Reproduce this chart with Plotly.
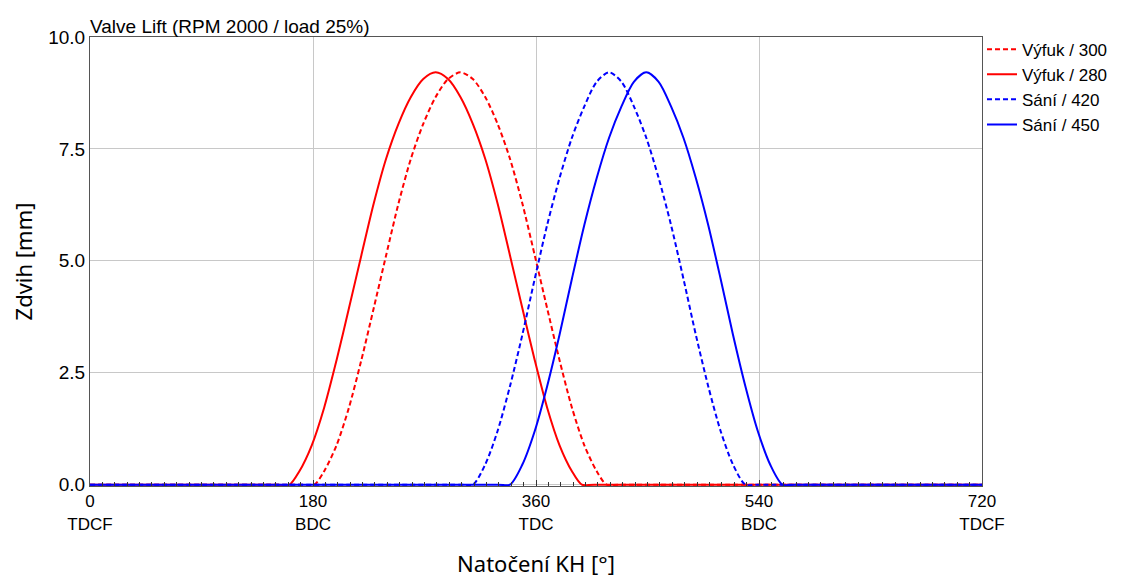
import plotly.graph_objects as go

# valve lift (crank angle [deg], lift [mm])
vyfuk_300_x = [0, 171, 181, 189, 199, 209, 219, 229, 239, 249, 259, 269, 279, 289,
               299, 309, 319, 329, 339, 349, 359, 369, 379, 389, 399, 409, 417, 427, 720]
vyfuk_300_y = [0, 0, 0, 0.3, 0.88, 1.72, 2.78, 3.94, 5.12, 6.28, 7.28, 8.06, 8.66, 9.06,
               9.21, 9.06, 8.66, 8.06, 7.28, 6.28, 5.12, 3.94, 2.78, 1.72, 0.88, 0.3, 0, 0, 0]

vyfuk_280_x = [0, 151, 161, 169, 179, 189, 199, 209, 219, 229, 239, 249, 259, 269,
               279, 289, 299, 309, 319, 329, 339, 349, 359, 369, 379, 389, 397, 407, 720]
vyfuk_280_y = [0, 0, 0, 0.3, 0.88, 1.72, 2.78, 3.94, 5.12, 6.28, 7.28, 8.06, 8.66, 9.06,
               9.21, 9.06, 8.66, 8.06, 7.28, 6.28, 5.12, 3.94, 2.78, 1.72, 0.88, 0.3, 0, 0, 0]

sani_420_x = [0, 299, 309, 319, 329, 339, 349, 359, 369, 379, 389, 399, 409, 419,
              429, 439, 449, 459, 469, 479, 489, 499, 509, 519, 529, 539, 720]
sani_420_y = [0, 0, 0, 0.45, 1.2, 2.2, 3.35, 4.6, 5.8, 6.85, 7.75, 8.45, 9.0, 9.21,
              9.0, 8.45, 7.75, 6.85, 5.8, 4.6, 3.35, 2.2, 1.2, 0.45, 0, 0, 0]

sani_450_x = [0, 329, 339, 349, 359, 369, 379, 389, 399, 409, 419, 429, 439, 449,
              459, 469, 479, 489, 499, 509, 519, 529, 539, 549, 559, 569, 720]
sani_450_y = [0, 0, 0, 0.45, 1.2, 2.2, 3.35, 4.6, 5.8, 6.85, 7.75, 8.45, 9.0, 9.21,
              9.0, 8.45, 7.75, 6.85, 5.8, 4.6, 3.35, 2.2, 1.2, 0.45, 0, 0, 0]

x_ticks = [0, 180, 360, 540, 720]
x_labels = ["0<br>TDCF", "180<br>BDC", "360<br>TDC", "540<br>BDC", "720<br>TDCF"]
y_ticks = [0, 2.5, 5, 7.5, 10]
y_labels = ["0.0", "2.5", "5.0", "7.5", "10.0"]

RED = "#ff0000"
BLUE = "#0000ff"
dash = "5px,3px"

fig = go.Figure()
fig.add_trace(go.Scatter(x=vyfuk_300_x, y=vyfuk_300_y, name="Výfuk / 300", mode="lines",
                         line=dict(color=RED, width=2, dash=dash, shape="spline", smoothing=0.8)))
fig.add_trace(go.Scatter(x=vyfuk_280_x, y=vyfuk_280_y, name="Výfuk / 280", mode="lines",
                         line=dict(color=RED, width=2, shape="spline", smoothing=0.8)))
fig.add_trace(go.Scatter(x=sani_420_x, y=sani_420_y, name="Sání / 420", mode="lines",
                         line=dict(color=BLUE, width=2, dash=dash, shape="spline", smoothing=0.8)))
fig.add_trace(go.Scatter(x=sani_450_x, y=sani_450_y, name="Sání / 450", mode="lines",
                         line=dict(color=BLUE, width=2, shape="spline", smoothing=0.8)))

arial = "Liberation Sans, Arial, sans-serif"
tick_font = dict(family=arial, size=19, color="#000")
xtick_font = dict(family=arial, size=17, color="#000")
legend_font = dict(family=arial, size=17, color="#000")
title_font = dict(family="Noto Sans, Open Sans, sans-serif", size=22, color="#000")

# the page body adds an 8px offset, so margins are shifted to compensate
fig.update_layout(
    width=1126, height=577,
    margin=dict(l=82, r=152, t=29, b=99),
    paper_bgcolor="white", plot_bgcolor="white",
    title=dict(text="Valve Lift (RPM 2000 / load 25%)", x=0, xref="paper", xanchor="left",
               y=1 - 18 / 577, yref="container", yanchor="middle", font=tick_font),
    legend=dict(x=1.0, xanchor="left", y=1.012, yanchor="top", font=legend_font,
                bgcolor="rgba(0,0,0,0)", tracegroupgap=0),
    showlegend=True,
)
fig.update_xaxes(
    range=[0, 720], tickvals=x_ticks, ticktext=x_labels, tickfont=xtick_font,
    showgrid=True, gridcolor="#c8c8c8", gridwidth=1, zeroline=False,
    showline=True, mirror=True, linecolor="#555", linewidth=1,
    ticks="inside", ticklen=6, tickcolor="#333",
    minor=dict(dtick=10, tick0=0, ticks="inside", ticklen=4, tickcolor="#333", showgrid=False),
    title=dict(text="Natočení KH [°]", font=title_font, standoff=24),
    automargin=False,
)
fig.update_yaxes(
    range=[-0.03, 10], tickvals=y_ticks, ticktext=y_labels, tickfont=tick_font,
    showgrid=True, gridcolor="#c8c8c8", gridwidth=1, zeroline=False,
    showline=True, mirror=True, linecolor="#555", linewidth=1,
    title=dict(text="Zdvih [mm]", font=title_font, standoff=15),
    automargin=False,
)

fig.write_html("out.html")
